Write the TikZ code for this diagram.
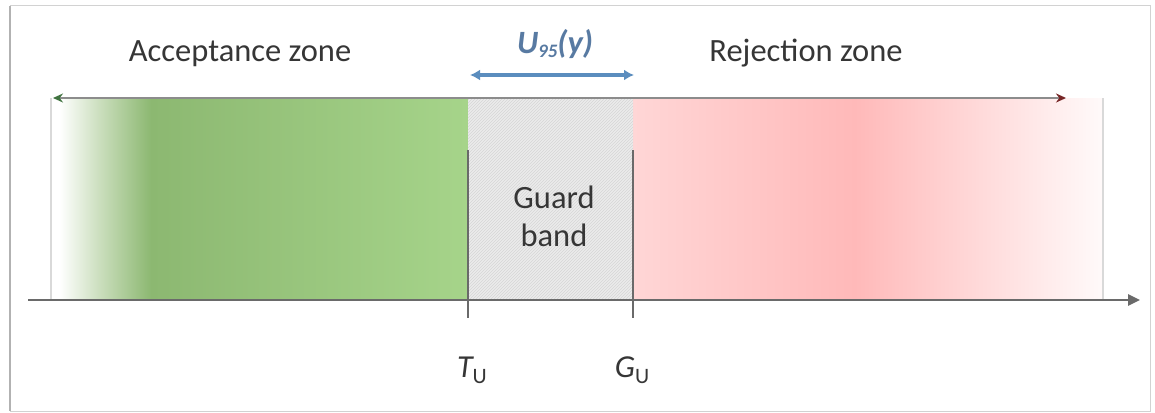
\documentclass[tikz,border=0pt]{standalone}
\usepackage{fontspec}
\setmainfont{Carlito}
\usetikzlibrary{arrows.meta,patterns}
\definecolor{txt}{HTML}{363636}
\definecolor{gzl}{HTML}{C9DDBB}
\definecolor{gzd}{HTML}{8CB871}
\definecolor{gzr}{HTML}{A6D48A}
\definecolor{rzl}{HTML}{FFD6D6}
\definecolor{rzd}{HTML}{FFB9B9}
\definecolor{rzr}{HTML}{FFFAFA}
\definecolor{guardfill}{HTML}{EBEBEB}
\definecolor{guardline}{HTML}{D6D6D6}
\definecolor{ublue}{HTML}{5B8DBE}
\definecolor{utext}{HTML}{587AA2}
\definecolor{axisgrey}{HTML}{6A6A6A}
\pgfdeclarehorizontalshading{greenzone}{100bp}{color(0bp)=(white); color(25bp)=(white); color(26bp)=(white); color(31bp)=(gzl); color(37bp)=(gzd); color(75bp)=(gzr); color(100bp)=(gzr)}
\pgfdeclarehorizontalshading{redzone}{100bp}{color(0bp)=(rzl); color(25bp)=(rzl); color(48.6bp)=(rzd); color(75bp)=(rzr); color(100bp)=(rzr)}
\tikzset{
  zonelabel/.style={text=txt, font=\fontsize{32.5}{38}\selectfont, inner sep=0pt, anchor=base},
  ticklabel/.style={text=txt, font=\fontsize{32}{38}\selectfont, inner sep=0pt, anchor=base},
  frameline/.style={draw=gray!35, line width=1pt},
  bandedge/.style={draw=gray!30, line width=1.2pt},
  toparrow/.style={draw=gray!90, line width=2.6pt, {Stealth[length=10pt,width=9pt,color=black!60!green!50!gray]}-{Stealth[length=10pt,width=9pt,color=black!55!red!70!gray]}},
  axisline/.style={draw=axisgrey, line width=2.8pt, -{Triangle[length=12pt,width=11pt]}},
  tickline/.style={draw=axisgrey, line width=1.4pt},
  uarrow/.style={draw=ublue, line width=3.2pt, {Latex[length=10pt,width=11pt]}-{Latex[length=10pt,width=11pt]}}
}
\begin{document}
\begin{tikzpicture}[x=1pt,y=-1pt]
\useasboundingbox (0,0) rectangle (1155,412);
\fill[white] (0,0) rectangle (1155,412);
\draw[frameline] (10,6) rectangle (1150,411);
\draw[draw=gray!60, line width=2pt] (10,6) -- (10,411);
% zones
\shade[shading=greenzone] (51,98) rectangle (468,300);
\shade[shading=redzone] (633,98) rectangle (1103,300);
\fill[guardfill] (468,98) rectangle (633,300);
\fill[pattern=north east lines, pattern color=guardline] (468,98) rectangle (633,300);
% coordinates
\coordinate (bandTL) at (51,98);
\coordinate (bandBL) at (51,300);
\coordinate (bandTR) at (1103,98);
\coordinate (bandBR) at (1103,300);
\coordinate (topL) at (53,98);
\coordinate (topR) at (1066,98);
\coordinate (axL) at (28,300);
\coordinate (axR) at (1140,300);
\coordinate (tuTop) at (468,150);
\coordinate (tuBot) at (468,318);
\coordinate (guTop) at (633,150);
\coordinate (guBot) at (633,318);
\coordinate (uL) at (470,75);
\coordinate (uR) at (634,75);
\draw[bandedge] (bandTL) -- (bandBL);
\draw[bandedge] (bandTR) -- (bandBR);
\draw[toparrow] (topL) -- (topR);
\draw[axisline] (axL) -- (axR);
\draw[tickline] (tuTop) -- (tuBot);
\draw[tickline] (guTop) -- (guBot);
\draw[uarrow] (uL) -- (uR);
% labels
\node[zonelabel] (acc) at (240,62) {Acceptance zone};
\node[zonelabel] (rej) at (806,62) {Rejection zone};
\node[zonelabel, text=utext] (u95) at (555,53) {\bfseries\itshape U\raisebox{-5pt}{\fontsize{19}{19}\selectfont 95}(y)};
\node[zonelabel] (guard) at (554,208) {Guard};
\node[zonelabel] (band) at (554,246) {band};
\node[ticklabel] (tu) at (472,377) {\itshape T\raisebox{-6pt}{\upshape\fontsize{22}{22}\selectfont U}};
\node[ticklabel] (gu) at (632,377) {\itshape G\raisebox{-6pt}{\upshape\fontsize{22}{22}\selectfont U}};
\end{tikzpicture}
\end{document}
